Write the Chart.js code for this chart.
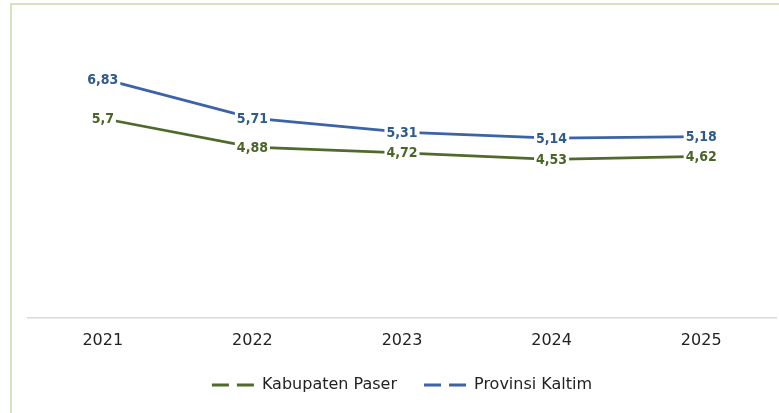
<!DOCTYPE html>
<html>
<head>
<meta charset="utf-8">
<script src="https://cdn.jsdelivr.net/npm/chart.js@4.4.1/dist/chart.umd.min.js"></script>
<style>
  html, body { margin: 0; padding: 0; background: #fff; }
  canvas { display: block; }
</style>
</head>
<body>
<canvas id="lineChart" width="779" height="413"></canvas>
<script>
const years = ['2021', '2022', '2023', '2024', '2025'];
const paser = [5.7, 4.88, 4.72, 4.53, 4.62];
const kaltim = [6.83, 5.71, 5.31, 5.14, 5.18];

const GREEN = '#4f6a2a';
const BLUE = '#3c62a8';
const LABEL_FONT = 'bold 14px "DejaVu Sans Condensed", "DejaVu Sans", sans-serif';

// light green frame of the original picture
const framePlugin = {
  id: 'frame',
  beforeDraw(chart) {
    const c = chart.ctx;
    c.save();
    c.fillStyle = '#fff';
    c.fillRect(0, 0, chart.width, chart.height);
    c.fillStyle = '#d6e3ba';
    c.fillRect(10, 3, 2, chart.height);
    c.fillRect(10, 3, chart.width, 2);
    c.restore();
  },
};

// value labels with white box, centred on each point
const valueLabels = {
  id: 'valueLabels',
  afterDatasetsDraw(chart) {
    const c = chart.ctx;
    c.save();
    c.font = LABEL_FONT;
    c.textAlign = 'center';
    c.textBaseline = 'middle';
    chart.data.datasets.forEach((ds, i) => {
      const meta = chart.getDatasetMeta(i);
      meta.data.forEach((pt, j) => {
        const txt = String(ds.data[j]).replace('.', ',');
        const w = c.measureText(txt).width;
        c.fillStyle = '#fff';
        c.fillRect(pt.x - w / 2 - 2, pt.y - 8, w + 4, 16);
        c.fillStyle = ds.labelColor;
        c.fillText(txt, pt.x, pt.y + 1);
      });
    });
    c.restore();
  },
};

const ctx = document.getElementById('lineChart').getContext('2d');
const chart = new Chart(ctx, {
  type: 'line',
  data: {
    labels: years,
    datasets: [
      {
        label: 'Kabupaten Paser',
        data: paser,
        borderColor: GREEN,
        labelColor: '#4a6527',
        borderWidth: 2.75,
        pointRadius: 0,
        tension: 0,
        fill: false,
      },
      {
        label: 'Provinsi Kaltim',
        data: kaltim,
        borderColor: BLUE,
        labelColor: '#2f5a8c',
        borderWidth: 2.75,
        pointRadius: 0,
        tension: 0,
        fill: false,
      },
    ],
  },
  options: {
    responsive: false,
    animation: false,
    layout: { padding: { top: 38, left: 28, right: 3, bottom: 10 } },
    scales: {
      x: {
        offset: true,
        grid: { display: false, drawTicks: false },
        border: { display: true, color: '#d9d9d9', width: 1.5 },
        ticks: {
          color: '#222',
          padding: 13,
          font: { family: '"DejaVu Sans", sans-serif', size: 16 },
        },
        afterFit(scale) {
          scale.height = 32;
        },
      },
      y: {
        display: false,
        min: 0,
        max: 8,
      },
    },
    plugins: {
      tooltip: { enabled: false },
      legend: {
        position: 'bottom',
        labels: {
          usePointStyle: true,
          pointStyleWidth: 42,
          boxWidth: 42,
          padding: 27,
          color: '#222',
          font: { family: '"DejaVu Sans", sans-serif', size: 16 },
          generateLabels(ch) {
            return ch.data.datasets.map((ds, i) => ({
              text: ds.label,
              fillStyle: ds.borderColor,
              strokeStyle: ds.borderColor,
              lineWidth: 3,
              lineDash: [17, 8],
              pointStyle: 'line',
              hidden: false,
              datasetIndex: i,
              fontColor: '#222',
            }));
          },
        },
      },
    },
  },
  plugins: [framePlugin, valueLabels],
});
</script>
</body>
</html>
